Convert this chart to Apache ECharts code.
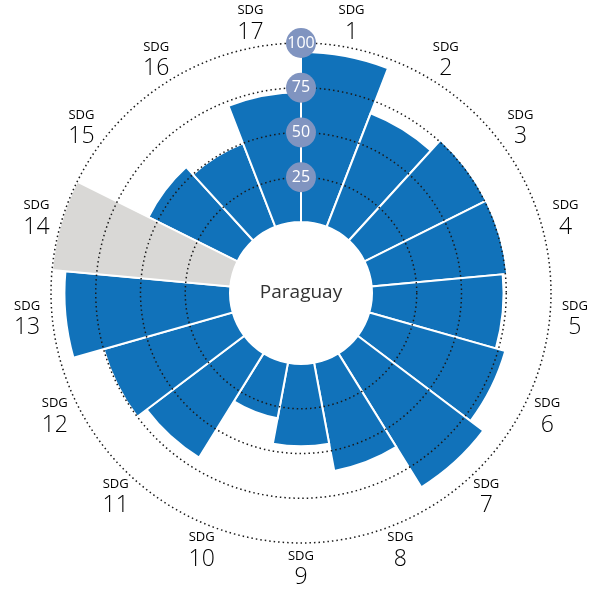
<!DOCTYPE html>
<html>
<head>
<meta charset="utf-8">
<script src="https://cdn.jsdelivr.net/npm/echarts@6/dist/echarts.min.js"></script>
<style>
  html, body { margin: 0; padding: 0; background: #fff; }
  #sdg-wheel { width: 600px; height: 589px; }
</style>
</head>
<body>
<div id="sdg-wheel"></div>
<script>
/***** Data start *****/
var country = 'Paraguay';
var goals = ['1', '2', '3', '4', '5', '6', '7', '8', '9', '10', '11', '12', '13', '14', '15', '16', '17'];
// score per goal, null = no data
var scores = [95, 68, 76, 76, 73.5, 79, 88, 61.5, 46, 31.5, 68.5, 75, 92.5, null, 55.5, 50, 72.5];
var ringTicks = [0, 25, 50, 75, 100];
/***** Data end *****/

var BLUE = '#1172ba';
var GREY = '#d9d8d6';
var LABEL_R = 114; // where goal labels sit, in score units

var noData = scores.map(function (v) { return v == null ? 100 : null; });
var labelData = goals.map(function (g, i) { return [LABEL_R, i]; });

var myChart = echarts.init(document.getElementById('sdg-wheel'));

myChart.setOption({
	animation: false,
	polar: {
		center: [301, 293],
		radius: [71, 250]
	},
	angleAxis: {
		type: 'category',
		data: goals,
		startAngle: 90,
		clockwise: true,
		axisLine: { show: false },
		axisTick: { show: false },
		axisLabel: { show: false },
		splitLine: { show: false }
	},
	radiusAxis: {
		type: 'value',
		min: ringTicks[0],
		max: ringTicks[ringTicks.length - 1],
		interval: 25,
		z: 10,
		axisLine: { show: true, lineStyle: { color: '#fff', width: 2 } },
		axisTick: { show: false },
		splitLine: {
			show: true,
			lineStyle: {
				color: ['transparent', '#1a1a1a', '#1a1a1a', '#1a1a1a', '#1a1a1a'],
				width: 1.5,
				type: [1.5, 3]
			}
		},
		axisLabel: {
			showMinLabel: false,
			margin: 0,
			align: 'center',
			verticalAlign: 'middle',
			color: '#fff',
			fontFamily: 'Open Sans',
			fontSize: 16,
			width: 26,
			height: 26,
			lineHeight: 26,
			padding: 2,
			borderRadius: 15,
			backgroundColor: '#8094c0'
		}
	},
	series: [
		{
			type: 'bar',
			coordinateSystem: 'polar',
			data: scores,
			barCategoryGap: '0%',
			itemStyle: { color: BLUE, borderColor: '#fff', borderWidth: 2 }
		},
		{
			type: 'bar',
			coordinateSystem: 'polar',
			data: noData,
			barGap: '-100%',
			barCategoryGap: '0%',
			itemStyle: { color: GREY, borderColor: '#fff', borderWidth: 2 }
		},
		{
			// goal labels round the wheel
			type: 'custom',
			coordinateSystem: 'polar',
			data: labelData,
			silent: true,
			renderItem: function (params, api) {
				var p = api.coord([api.value(0), api.value(1)]);
				return {
					type: 'text',
					x: p[0],
					y: p[1],
					style: {
						text: '{a|SDG}\n{b|' + goals[params.dataIndex] + '}',
						align: 'center',
						verticalAlign: 'middle',
						fontFamily: 'Open Sans',
						rich: {
							a: { fontSize: 13, color: '#666', lineHeight: 19, align: 'center', fontFamily: 'Open Sans' },
							b: { fontSize: 23, color: '#333', lineHeight: 24, align: 'center', fontFamily: 'Open Sans', fontWeight: 300 }
						}
					}
				};
			}
		}
	],
	graphic: [{
		type: 'text',
		x: 301,
		y: 293,
		style: {
			text: country,
			align: 'center',
			verticalAlign: 'middle',
			fontFamily: 'Open Sans',
			fontSize: 19,
			fill: '#333'
		}
	}]
});
</script>
</body>
</html>
